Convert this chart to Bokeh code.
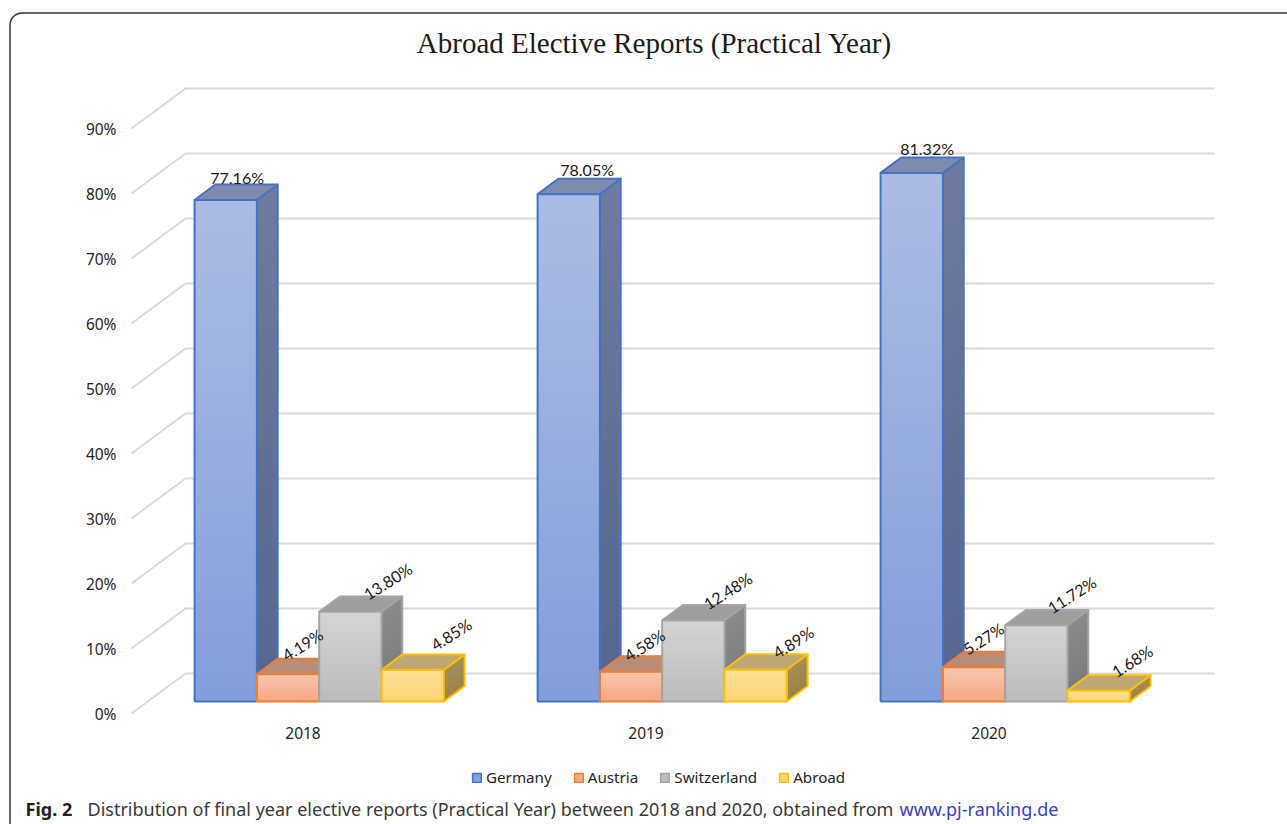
import math
from bokeh.plotting import figure
from bokeh.models import (ColumnDataSource, FixedTicker, Range1d, Legend, LegendItem, Label,
                          LinearAxis)
from bokeh.core.properties import value
from bokeh.embed import file_html
from bokeh.resources import INLINE

# ---- data ----
years = ["2018", "2019", "2020"]
series = ["Germany", "Austria", "Switzerland", "Abroad"]
germany = [77.16, 78.05, 81.32]
austria = [4.19, 4.58, 5.27]
switzerland = [13.80, 12.48, 11.72]
abroad = [4.85, 4.89, 1.68]
y_ticks = [0, 10, 20, 30, 40, 50, 60, 70, 80, 90]
chart_title = "Abroad Elective Reports (Practical Year)"
caption_bold = "Fig. 2"
caption_text = "Distribution of final year elective reports (Practical Year) between 2018 and 2020, obtained from"
caption_link = "www.pj-ranking.de"

values = [germany, austria, switzerland, abroad]

# ---- layout and style ----
W, H = 1287, 824
PX_X = 343.0   # pixels per category
PX_Y = 6.5     # pixels per percent
ORIGIN_X, ORIGIN_Y = 131, 713
WALL_DX = 54 / PX_X
WALL_DY = 40 / PX_Y
BAR_W = 62.3 / PX_X
BAR_OFF = 0.30     # how far in the depth the front faces sit
BAR_DEPTH = 0.385  # bar depth as share of the floor's depth
STRIPS = 36

styles = {
    "Germany": dict(line="#4472C4", front=("#ABBBE3", "#849EDB"), side=("#6F7B9E", "#566690"), top="#7E8BAE"),
    "Austria": dict(line="#ED7D31", front=("#F8C6AF", "#F5A783"), side=("#A8775C", "#9A6A50"), top="#B98C78"),
    "Switzerland": dict(line="#A5A5A5", front=("#D4D4D4", "#BBBBBB"), side=("#8A8A8A", "#7A7A7A"), top="#9E9E9E"),
    "Abroad": dict(line="#FFC000", front=("#FFDF95", "#FFD576"), side=("#A68E58", "#9B8348"), top="#BEA675"),
}

# per label nudges in pixels, relative to the centre of the bar's top face
label_nudges = {
    "Germany": [(1, -15), (8, -17), (5, -17)],
    "Austria": [(4, -22), (3, -19), (-1, -21)],
    "Switzerland": [(27, -23), (24, -22), (25, -23)],
    "Abroad": [(28, -28), (27, -20), (23, -22)],
}


def mix(c1, c2, t):
    a = [int(c1[i:i + 2], 16) for i in (1, 3, 5)]
    b = [int(c2[i:i + 2], 16) for i in (1, 3, 5)]
    return "#%02x%02x%02x" % tuple(round(x + (y - x) * t) for x, y in zip(a, b))


def dx_of(px):
    return (px - ORIGIN_X) / PX_X


def dy_of(py):
    return (ORIGIN_Y - py) / PX_Y


p = figure(width=W, height=H, output_backend="svg", toolbar_location=None,
           x_range=Range1d(dx_of(0), dx_of(W)), y_range=Range1d(dy_of(H), dy_of(0)),
           x_axis_type=None, y_axis_type=None,
           min_border_left=0, min_border_right=0, min_border_top=0, min_border_bottom=0)
p.outline_line_color = None
p.grid.visible = False

# axes
y_axis = LinearAxis(fixed_location=0, ticker=FixedTicker(ticks=y_ticks),
                    major_label_overrides={v: f"{v}%" for v in y_ticks}, major_label_standoff=9)
x_axis = LinearAxis(fixed_location=0, ticker=FixedTicker(ticks=[i + 0.5 for i in range(len(years))]),
                    major_label_overrides={i + 0.5: y for i, y in enumerate(years)}, major_label_standoff=7)
for ax in (x_axis, y_axis):
    ax.axis_line_color = None
    ax.major_tick_line_color = None
    ax.minor_tick_line_color = None
    ax.major_label_text_font = "Noto Sans"
    ax.major_label_text_font_size = "15.5px"
    ax.major_label_text_color = "#262626"
p.add_layout(y_axis, "left")
p.add_layout(x_axis, "below")

# walls: side-wall diagonals and back-wall lines
grid_color = "#D9D9D9"
xmax = 3 + WALL_DX
p.multi_line(xs=[[0, WALL_DX, xmax] for _ in y_ticks],
             ys=[[v, v + WALL_DY, v + WALL_DY] for v in y_ticks],
             line_color=grid_color, line_width=2)

# bars
n = len(series)
for g in range(len(years)):
    for s, name in enumerate(series):
        st = styles[name]
        v = values[s][g]
        x0 = g + 0.5 - n * BAR_W / 2 + s * BAR_W + BAR_OFF * WALL_DX
        x1 = x0 + BAR_W
        y0 = BAR_OFF * WALL_DY
        y1 = y0 + v
        dx = BAR_DEPTH * WALL_DX
        dy = BAR_DEPTH * WALL_DY
        # gradient strips, nested from the full height down so no seams appear
        for k in range(STRIPS):
            t = k / (STRIPS - 1)
            h = y0 + v * (1 - k / STRIPS)
            p.quad(left=x0, right=x1, bottom=y0, top=h, fill_color=mix(*st["front"], t), line_color=None)
            p.patch(x=[x1, x1 + dx, x1 + dx, x1], y=[y0, y0 + dy, h + dy, h],
                    fill_color=mix(*st["side"], t), line_color=None)
        # top face
        p.patch(x=[x0, x0 + dx, x1 + dx, x1], y=[y1, y1 + dy, y1 + dy, y1],
                fill_color=st["top"], line_color=None)
        # outlines
        p.multi_line(xs=[[x0, x0, x1, x1, x0], [x0, x0 + dx, x1 + dx, x1 + dx, x1], [x1, x1 + dx]],
                     ys=[[y0, y1, y1, y0, y0], [y1, y1 + dy, y1 + dy, y0 + dy, y0], [y1, y1 + dy]],
                     line_color=st["line"], line_width=2, line_join="miter")

# data labels
for s, name in enumerate(series):
    xs, ys, txt, ox, oy = [], [], [], [], []
    for g in range(len(years)):
        v = values[s][g]
        xs.append(g + 0.5 - n * BAR_W / 2 + (s + 0.5) * BAR_W + (BAR_OFF + BAR_DEPTH / 2) * WALL_DX)
        ys.append((BAR_OFF + BAR_DEPTH / 2) * WALL_DY + v)
        txt.append(f"{v:.2f}%")
        ox.append(label_nudges[name][g][0])
        oy.append(label_nudges[name][g][1])
    src = ColumnDataSource(dict(x=xs, y=ys, text=txt, ox=ox, oy=oy))
    p.text(x="x", y="y", text="text", x_offset="ox", y_offset="oy", source=src,
           angle=0 if name == "Germany" else 0.56,
           text_font=value("Lato"), text_font_size=value("16px"), text_color="#1a1a1a",
           text_align="center", text_baseline="middle")

# legend
legend_items = []
for s, name in enumerate(series):
    r = p.quad(left=[0], right=[0], bottom=[0], top=[0], fill_color=styles[name]["front"][1],
               line_color=styles[name]["line"], line_width=1.5)
    legend_items.append(LegendItem(label=name, renderers=[r]))
legend = Legend(items=legend_items, orientation="horizontal", location=(471, H - 787),
                background_fill_alpha=0, border_line_color=None,
                label_text_font="Noto Sans", label_text_font_size="15.2px", label_text_color="#262626",
                glyph_width=11, glyph_height=11, spacing=21, label_standoff=4, padding=0, margin=0)
p.add_layout(legend, "center")

# title
p.add_layout(Label(x=dx_of(654), y=dy_of(42), text=chart_title, text_align="center", text_baseline="middle",
                   text_font="Liberation Serif", text_font_size="29px", text_color="#1a1a1a"))

# caption
cap = dict(text_font="Noto Sans", text_font_size="18px", text_baseline="middle", y=dy_of(808))
p.add_layout(Label(x=dx_of(25), text=caption_bold, text_font_style="bold", text_color="#231F20", **cap))
p.add_layout(Label(x=dx_of(87), text=caption_text, text_color="#3a3a3a", **cap))
p.add_layout(Label(x=dx_of(899), text=caption_link, text_color="#3B3FC8", **cap))

# panel border: a rounded corner, the top edge and the left edge
R = 12
TOP, LEFT = 12.5, 9.5
corner = [(LEFT + R - R * math.cos(a * math.pi / 16), TOP + R - R * math.sin(a * math.pi / 16)) for a in range(0, 9)]
p.line(x=[dx_of(LEFT)] + [dx_of(c[0]) for c in corner], y=[dy_of(H)] + [dy_of(c[1]) for c in corner],
       line_color="#333333", line_width=1.5)
p.line(x=[dx_of(LEFT + R), dx_of(W)], y=[dy_of(TOP), dy_of(TOP)], line_color="#666666", line_width=2)

open("out.html", "w").write(file_html(p, INLINE))
